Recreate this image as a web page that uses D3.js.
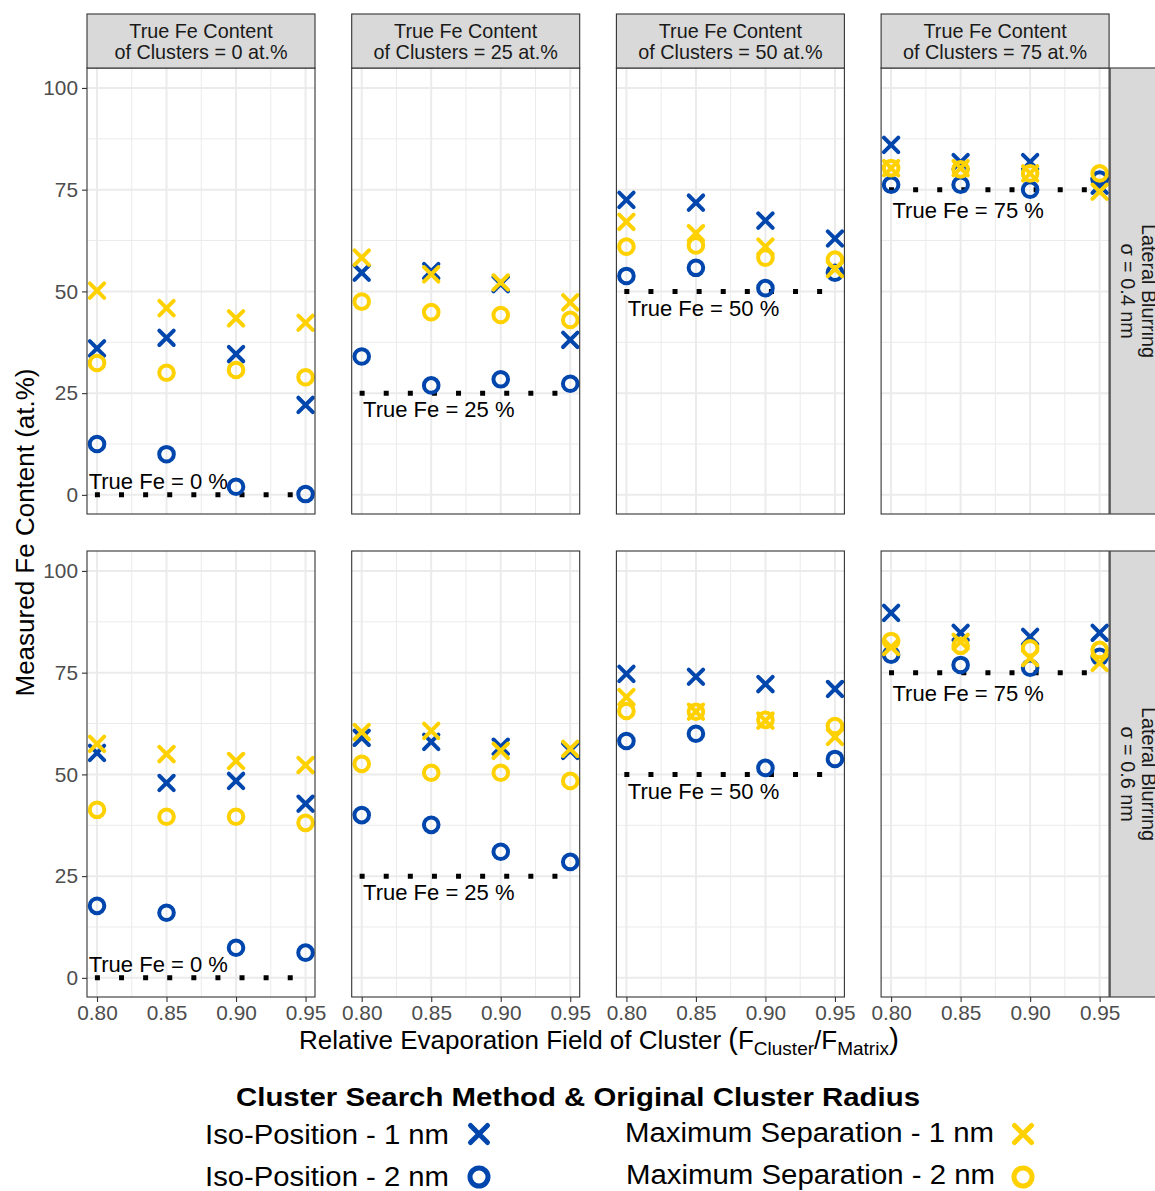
<!DOCTYPE html>
<html>
<head>
<meta charset="utf-8">
<script src="https://cdn.jsdelivr.net/npm/d3@7"></script>
<style>
  body { margin: 0; background: #fff; }
  svg { display: block; font-family: "Liberation Sans", Arial, sans-serif; }
</style>
</head>
<body>
<script>
// evaporation field ratios on the x axis
var fieldRatio = [0.80, 0.85, 0.90, 0.95];
// true Fe content of the clusters, one facet column each
var trueFe = [0, 25, 50, 75];
// lateral blurring, one facet row each
var blurring = ["0.4", "0.6"];
var methods = ["Iso-Position - 1 nm", "Iso-Position - 2 nm", "Maximum Separation - 1 nm", "Maximum Separation - 2 nm"];

// measured Fe content (at.%), [true Fe column][field ratio]
var iso1_04 = [[36.0, 38.6, 34.6, 22.1], [54.6, 55.0, 51.8, 38.1], [72.5, 71.8, 67.4, 63.0], [86.0, 81.8, 81.8, 76.0]];
var iso2_04 = [[12.5, 10.0, 2.0, 0.2], [34.0, 26.9, 28.4, 27.3], [53.8, 55.8, 50.8, 54.6], [76.2, 76.2, 75.0, 77.5]];
var max1_04 = [[50.2, 45.9, 43.4, 42.3], [58.3, 54.2, 52.2, 47.3], [67.1, 64.3, 61.0, 55.5], [80.3, 80.3, 79.0, 74.5]];
var max2_04 = [[32.4, 30.0, 30.7, 28.9], [47.5, 44.9, 44.2, 43.0], [61.0, 61.3, 58.3, 57.8], [80.3, 80.0, 79.0, 79.0]];

var iso1_06 = [[55.3, 47.9, 48.4, 42.8], [59.0, 58.0, 56.8, 55.8], [74.7, 74.0, 72.2, 71.0], [89.7, 84.8, 83.8, 84.8]];
var iso2_06 = [[17.7, 16.0, 7.4, 6.2], [40.0, 37.6, 31.0, 28.5], [58.2, 60.0, 51.6, 53.8], [79.4, 76.9, 76.2, 78.9]];
var max1_06 = [[57.5, 55.0, 53.3, 52.3], [60.4, 60.7, 55.8, 56.3], [69.0, 65.4, 63.2, 59.2], [81.3, 82.6, 78.6, 77.4]];
var max2_06 = [[41.3, 39.6, 39.6, 38.1], [52.6, 50.4, 50.4, 48.4], [65.6, 65.4, 63.4, 61.9], [82.8, 81.6, 81.0, 80.6]];

// reference line annotation
var labelX = [0.794, 0.801, 0.801, 0.801];
var labelY = [3.5, 21, 46, 70];
var lineFrom = 0.7985, lineTo = 0.9532;

var yTicks = [0, 25, 50, 75, 100];
var xTicks = [0.80, 0.85, 0.90, 0.95];

var series = [
    [iso1_04, iso2_04, max1_04, max2_04],
    [iso1_06, iso2_06, max1_06, max2_06]
];
var shapes = ["x", "o", "x", "o"];
var colors = ["#0046AD", "#0046AD", "#FFD100", "#FFD100"];

var w = 1155, h = 1191;
var pw = 228, ph = 446;
var left0 = 87, colStep = 264.7;
var top0 = 68, rowStep = 483;
var stripH = 54;

var svg = d3.select("body").append("svg")
    .attr("width", w)
    .attr("height", h);

var xScale = d3.scaleLinear().domain([0.7928, 0.9568]).range([0, pw]);
var yScale = d3.scaleLinear().domain([-4.7, 104.9]).range([ph, 0]);

function xPath(s) {
    return "M" + (-s) + "," + (-s) + "L" + s + "," + s + "M" + (-s) + "," + s + "L" + s + "," + (-s);
}

var minorX = [0.825, 0.875, 0.925];
var minorY = [12.5, 37.5, 62.5, 87.5];

blurring.forEach(function (b, r) {
    trueFe.forEach(function (t, c) {
        var g = svg.append("g")
            .attr("transform", "translate(" + (left0 + c * colStep) + "," + (top0 + r * rowStep) + ")");

        g.append("rect").attr("width", pw).attr("height", ph).attr("fill", "#fff");

        g.selectAll(".minx").data(minorX).enter().append("line")
            .attr("x1", function (d) { return xScale(d); })
            .attr("x2", function (d) { return xScale(d); })
            .attr("y1", 0).attr("y2", ph)
            .attr("stroke", "#EBEBEB").attr("stroke-width", 1);
        g.selectAll(".miny").data(minorY).enter().append("line")
            .attr("y1", function (d) { return yScale(d); })
            .attr("y2", function (d) { return yScale(d); })
            .attr("x1", 0).attr("x2", pw)
            .attr("stroke", "#EBEBEB").attr("stroke-width", 1);
        g.selectAll(".majx").data(xTicks).enter().append("line")
            .attr("x1", function (d) { return xScale(d); })
            .attr("x2", function (d) { return xScale(d); })
            .attr("y1", 0).attr("y2", ph)
            .attr("stroke", "#EBEBEB").attr("stroke-width", 2);
        g.selectAll(".majy").data(yTicks).enter().append("line")
            .attr("y1", function (d) { return yScale(d); })
            .attr("y2", function (d) { return yScale(d); })
            .attr("x1", 0).attr("x2", pw)
            .attr("stroke", "#EBEBEB").attr("stroke-width", 2);

        // dotted line at the true content
        g.append("line")
            .attr("x1", xScale(lineFrom)).attr("x2", xScale(lineTo))
            .attr("y1", yScale(t)).attr("y2", yScale(t))
            .attr("stroke", "#000").attr("stroke-width", 5)
            .attr("stroke-dasharray", "5 19.1");

        g.append("text")
            .attr("x", xScale(labelX[c]))
            .attr("y", yScale(labelY[c]))
            .attr("dy", "0.36em")
            .style("font-size", "22px")
            .attr("fill", "#000")
            .text("True Fe = " + t + " %");

        series[r].forEach(function (s, k) {
            var pts = s[c].map(function (v, i) { return [fieldRatio[i], v]; });
            if (shapes[k] == "x") {
                g.selectAll(".p" + k).data(pts).enter().append("path")
                    .attr("transform", function (d) {
                        return "translate(" + xScale(d[0]) + "," + yScale(d[1]) + ")";
                    })
                    .attr("d", xPath(7.2))
                    .attr("fill", "none")
                    .attr("stroke", colors[k])
                    .attr("stroke-width", 4)
                    .attr("stroke-linecap", "round");
            } else {
                g.selectAll(".p" + k).data(pts).enter().append("circle")
                    .attr("cx", function (d) { return xScale(d[0]); })
                    .attr("cy", function (d) { return yScale(d[1]); })
                    .attr("r", 7.3)
                    .attr("fill", "none")
                    .attr("stroke", colors[k])
                    .attr("stroke-width", 4);
            }
        });

        g.append("rect").attr("width", pw).attr("height", ph)
            .attr("fill", "none").attr("stroke", "#333").attr("stroke-width", 1.1);

        // top strips
        if (r == 0) {
            var st = svg.append("g")
                .attr("transform", "translate(" + (left0 + c * colStep) + "," + (top0 - stripH) + ")");
            st.append("rect").attr("width", pw).attr("height", stripH)
                .attr("fill", "#D9D9D9").attr("stroke", "#333").attr("stroke-width", 1.1);
            st.append("text").attr("x", pw / 2).attr("y", 24).attr("text-anchor", "middle")
                .style("font-size", "19.8px").attr("fill", "#1A1A1A").text("True Fe Content");
            st.append("text").attr("x", pw / 2).attr("y", 45).attr("text-anchor", "middle")
                .style("font-size", "19.8px").attr("fill", "#1A1A1A").text("of Clusters = " + t + " at.%");
        }

        if (c == 0) {
            var ya = g.append("g").call(d3.axisLeft(yScale).tickValues(yTicks).tickSize(5).tickPadding(4));
            ya.select(".domain").remove();
            ya.selectAll("line").attr("stroke", "#333").attr("stroke-width", 1.1);
            ya.selectAll("text").style("font-size", "20.8px").attr("fill", "#4D4D4D")
                .style("font-family", "Liberation Sans, Arial, sans-serif");
        }
        if (r == 1) {
            var xa = g.append("g").attr("transform", "translate(0," + ph + ")")
                .call(d3.axisBottom(xScale).tickValues(xTicks).tickSize(5).tickPadding(3).tickFormat(d3.format(".2f")));
            xa.select(".domain").remove();
            xa.selectAll("line").attr("stroke", "#333").attr("stroke-width", 1.1);
            xa.selectAll("text").style("font-size", "20.8px").attr("fill", "#4D4D4D")
                .style("font-family", "Liberation Sans, Arial, sans-serif");
        }
    });

    // right strip, partly beyond the right edge as in the original
    var rx = left0 + 3 * colStep + pw + 1;
    var ry = top0 + r * rowStep;
    svg.append("rect").attr("x", rx).attr("y", ry).attr("width", stripH).attr("height", ph)
        .attr("fill", "#D9D9D9").attr("stroke", "#333").attr("stroke-width", 1.1);
    var rt = svg.append("g").attr("transform", "translate(" + (rx + stripH / 2) + "," + (ry + ph / 2) + ") rotate(90)");
    rt.append("text").attr("x", 0).attr("y", -5).attr("text-anchor", "middle")
        .style("font-size", "19.8px").attr("fill", "#1A1A1A").text("Lateral Blurring");
    rt.append("text").attr("x", 0).attr("y", 16).attr("text-anchor", "middle")
        .style("font-size", "19.8px").attr("fill", "#1A1A1A").text("\u03C3 = " + b + " nm");
});

// axis titles
svg.append("text")
    .attr("transform", "translate(34," + (top0 + (rowStep + ph) / 2) + ") rotate(-90)")
    .attr("text-anchor", "middle")
    .style("font-size", "26px")
    .attr("fill", "#000")
    .text("Measured Fe Content (at.%)");

var xt = svg.append("text")
    .attr("x", 599).attr("y", 1049)
    .attr("text-anchor", "middle")
    .style("font-size", "26px")
    .attr("fill", "#000");
xt.append("tspan").text("Relative Evaporation Field of Cluster ");
xt.append("tspan").style("font-size", "29px").text("(");
xt.append("tspan").text("F");
xt.append("tspan").attr("dy", 6).style("font-size", "19px").text("Cluster");
xt.append("tspan").attr("dy", -6).text("/F");
xt.append("tspan").attr("dy", 6).style("font-size", "19px").text("Matrix");
xt.append("tspan").attr("dy", -6).style("font-size", "30px").text(")");

// legend
svg.append("text")
    .attr("x", 236).attr("y", 1106)
    .style("font-size", "25px").style("font-weight", "bold")
    .attr("textLength", 684).attr("lengthAdjust", "spacingAndGlyphs")
    .attr("fill", "#000")
    .text("Cluster Search Method & Original Cluster Radius");

var legX = [205, 205, 625, 626];
var legY = [1144, 1186, 1142, 1184];
var legLen = [244, 244, 369, 369];
var symX = [479, 479, 1023, 1023];
var symY = [1134, 1177, 1134, 1177];

methods.forEach(function (m, k) {
    svg.append("text")
        .attr("x", legX[k]).attr("y", legY[k])
        .style("font-size", "27px")
        .style("font-family", "Liberation Sans Narrow, Arial Narrow, Liberation Sans, sans-serif")
        .attr("textLength", legLen[k]).attr("lengthAdjust", "spacingAndGlyphs")
        .attr("fill", "#000")
        .text(m);
    if (shapes[k] == "x") {
        svg.append("path")
            .attr("transform", "translate(" + symX[k] + "," + symY[k] + ")")
            .attr("d", xPath(8.5))
            .attr("fill", "none").attr("stroke", colors[k])
            .attr("stroke-width", 5).attr("stroke-linecap", "round");
    } else {
        svg.append("circle")
            .attr("cx", symX[k]).attr("cy", symY[k]).attr("r", 9)
            .attr("fill", "none").attr("stroke", colors[k]).attr("stroke-width", 5);
    }
});
</script>
</body>
</html>
